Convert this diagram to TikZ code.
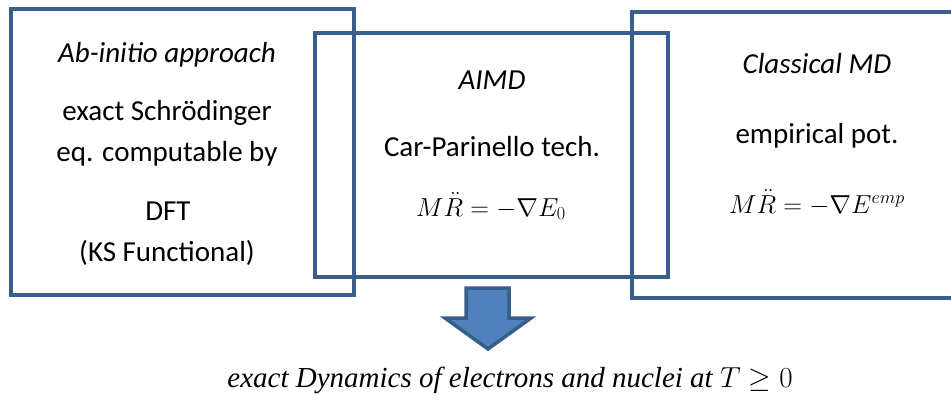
\RequirePackage{fix-cm}
\documentclass[tikz,border=0pt]{standalone}
\usepackage{amsmath}
\usepackage{amssymb}
\usepackage{fontspec}
\setmainfont{Carlito}
\newfontfamily\resfont{Liberation Serif}
\usepackage{tikz}
\usetikzlibrary{positioning, arrows.meta}
\definecolor{frame}{HTML}{3A5F8F}
\definecolor{arrowfill}{HTML}{4F81BD}
\definecolor{arrowdraw}{HTML}{385D8A}
\tikzset{
  panel/.style   = {rectangle, draw=frame, line width=4pt, inner sep=0pt},
  head/.style    = {anchor=base, inner sep=0pt,
                    font=\fontsize{29}{35}\selectfont\itshape},
  txt/.style     = {anchor=base, inner sep=0pt,
                    font=\fontsize{29}{35}\selectfont},
  eqn/.style     = {anchor=base, inner sep=0pt,
                    font=\fontsize{26}{31}\selectfont},
  result/.style  = {anchor=base, inner sep=0pt,
                    font=\fontsize{29}{35}\selectfont\resfont\itshape},
  bigarr/.style  = {draw=arrowdraw, fill=arrowfill, line width=3.5pt, line join=miter},
}

\begin{document}
\begin{tikzpicture}[x=1pt, y=-1pt]

  \clip (0,0) rectangle (951,401);

  % Box A
  \node[panel, minimum width=343pt, minimum height=285.5pt] (boxA) at (182,151.75) {};
  \node[head] (a1) at (167,63) {Ab-initio approach};
  \node[txt]  (a2) at (167,121) {exact Schrödinger};
  \node[txt]  (a3) at (167,162) {eq. computable by};
  \node[txt]  (a4) at (168,221) {DFT};
  \node[txt]  (a5) at (167,261) {(KS Functional)};

  % Box B
  \node[panel, minimum width=353pt, minimum height=243.5pt] (boxB) at (491.5,155.25) {};
  \node[head] (b1) at (492,90) {AIMD};
  \node[txt]  (b2) at (492,157) {Car-Parinello tech.};
  \node[eqn]  (b3) at (491,216) {$M\ddot{R} = -\nabla E_0$};

  % Box C (runs past the right edge)
  \node[panel, minimum width=338pt, minimum height=286pt] (boxC) at (801,155) {};
  \node[head] (c1) at (817,74) {Classical MD};
  \node[txt]  (c2) at (817,144) {empirical pot.};
  \node[eqn]  (c3) at (817,213) {$M\ddot{R} = -\nabla E^{emp}$};

  % result
  \draw[bigarr] (466,288) -- (509,288) -- (509,318) -- (531,318) -- (488,349)
                -- (445,318) -- (466,318) -- cycle;
  \node[result] (res) at (510,387) {exact Dynamics of electrons and nuclei at $T \geq 0$};

\end{tikzpicture}
\end{document}
